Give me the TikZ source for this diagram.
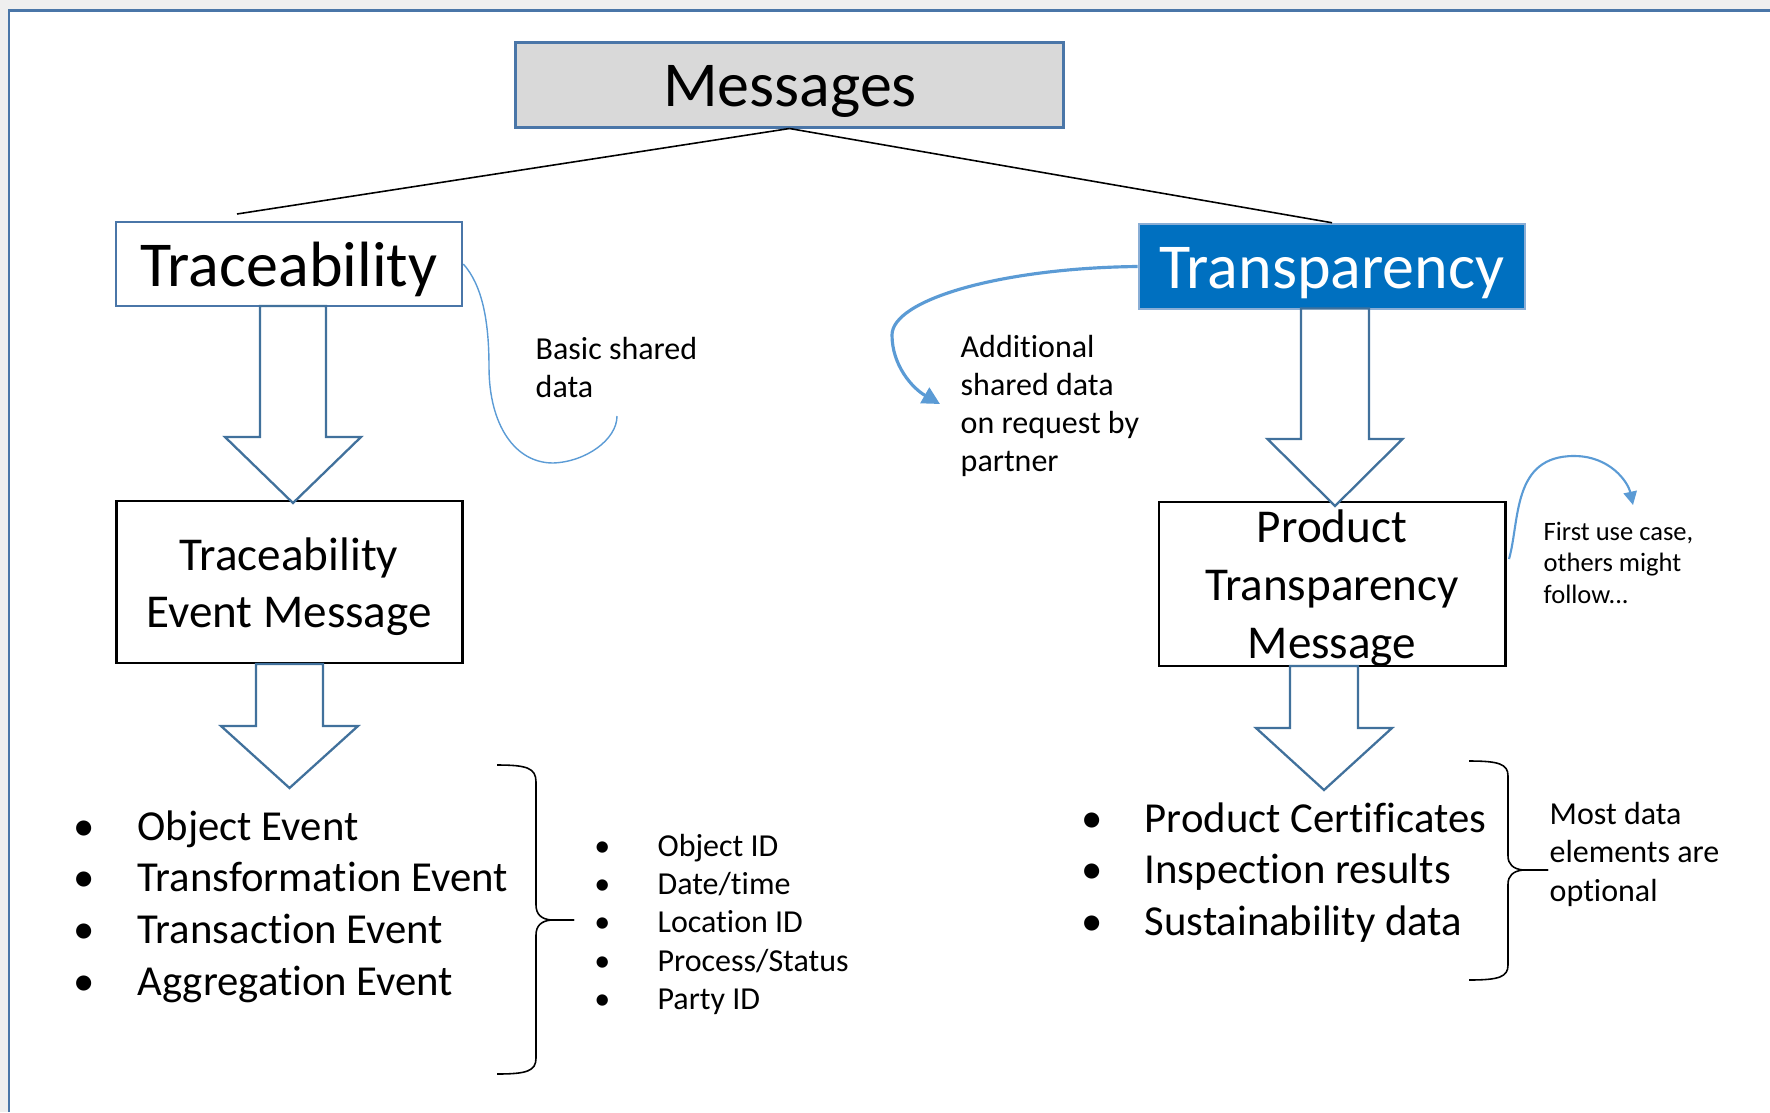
\documentclass[tikz,border=0pt]{standalone}
\usepackage{fontspec}
\setmainfont{Carlito}[Ligatures=CommonOff]
\usetikzlibrary{arrows.meta}
\definecolor{frameblue}{HTML}{4A76A8}
\definecolor{arrowblue}{HTML}{41719C}
\definecolor{msgfill}{HTML}{D9D9D9}
\definecolor{trpfill}{HTML}{0070C0}
\definecolor{trpline}{HTML}{8AAED6}
\definecolor{curveblue}{HTML}{5B9BD5}
\definecolor{outgray}{HTML}{EFEFEF}
\newcommand{\blockarr}[6]{%
  \draw[blockarrow] (#1-#5,#2) -- (#1-#5,#3) -- (#1-#6,#3) -- (#1,#4) -- (#1+#6,#3) -- (#1+#5,#3) -- (#1+#5,#2) -- cycle;}
\newcommand{\bul}[2]{\makebox[#1][l]{\kern#2•}}
\tikzset{
  boxnode/.style={rectangle, inner sep=0pt},
  msgbox/.style={boxnode, draw=frameblue, fill=msgfill, line width=0.85pt},
  tracebox/.style={boxnode, draw=frameblue, fill=white, line width=0.7pt},
  trpbox/.style={boxnode, draw=trpline, fill=trpfill, line width=0.7pt},
  blackbox/.style={boxnode, draw=black, fill=white, line width=0.8pt},
  blockarrow/.style={draw=arrowblue, fill=white, line width=0.65pt, line join=miter},
  bigtext/.style={inner sep=0pt, anchor=base, font=\fontsize{18.2}{21}\selectfont},
  midtext/.style={inner sep=0pt, anchor=base, font=\fontsize{13.4}{16.3}\selectfont},
  listtext/.style={inner sep=0pt, anchor=base west, font=\fontsize{12.15}{14.7}\selectfont},
  notetext/.style={inner sep=0pt, anchor=base west, font=\fontsize{9.1}{10.85}\selectfont},
  smalltext/.style={inner sep=0pt, anchor=base west, font=\fontsize{7.55}{9}\selectfont},
  treeline/.style={draw=black, line width=0.45pt},
  bracestyle/.style={draw=black, line width=0.45pt},
  thincurve/.style={draw=curveblue, line width=0.4pt},
  thickcurve/.style={draw=curveblue, line width=0.9pt, -{Triangle[length=5pt,width=5pt]}},
  medcurve/.style={draw=curveblue, line width=0.6pt, -{Triangle[length=3.8pt,width=3.8pt]}},
}
\begin{document}
\begin{tikzpicture}[x=0.01cm, y=-0.01cm]
\useasboundingbox (0,0) rectangle (1770,1112);
% outer frame
\fill[outgray] (0,0) rectangle (1770,10);
\fill[outgray] (0,0) rectangle (8,1112);
\draw[frameblue, line width=0.8pt] (9,1112) -- (9,10.5) -- (1770,10.5);

% boxes
\node[msgbox, minimum width=5.47cm, minimum height=0.84cm] (msg) at (789.5,85) {};
\node[bigtext] (msgt) at (790,106) {Messages};

\node[tracebox, minimum width=3.46cm, minimum height=0.84cm] (tr) at (289,264) {};
\node[bigtext] (trt) at (289,286) {Traceability};

\node[trpbox, minimum width=3.86cm, minimum height=0.85cm] (trp) at (1332,266.5) {};
\node[bigtext, text=white] (trpt) at (1332,288) {Transparency};

\node[blackbox, minimum width=3.45cm, minimum height=1.62cm] (tem) at (289.5,582) {};
\node[midtext] (temt) at (289,570) {\begin{tabular}[t]{@{}c@{}}Traceability\\Event Message\end{tabular}};

\node[blackbox, minimum width=3.46cm, minimum height=1.64cm] (ptm) at (1332,584) {};
\node[midtext, font=\fontsize{13.4}{16.5}\selectfont] (ptmt) at (1332,542) {\begin{tabular}[t]{@{}c@{}}Product\\Transparency\\Message\end{tabular}};

% tree lines
\coordinate (lend) at (237,214);
\draw[treeline] (msg.south) -- (lend);
\draw[treeline] (msg.south) -- (trp.north);

% block arrows
\blockarr{293}{306}{437}{503}{33}{68}
\blockarr{289.5}{664}{726}{788}{33.5}{68.5}
\blockarr{1335}{308.5}{439}{506}{34}{67.5}
\blockarr{1324}{666}{728}{790}{34}{68}

% curved annotation lines
\coordinate (c1end) at (617,416);
\draw[thincurve] (tr.east) .. controls (482,285) and (489,320) .. (489,367)
  .. controls (489,425) and (515,463) .. (553,463)
  .. controls (585,462) and (617,440) .. (c1end);
\coordinate (c2end) at (940,404);
\draw[thickcurve] (trp.west) .. controls (1000,268) and (892,300) .. (892,335)
  .. controls (892,365) and (912,388) .. (c2end);
\coordinate (c3start) at (1509,559);
\coordinate (c3end) at (1633,505);
\draw[medcurve] (c3start) .. controls (1520,520) and (1512,456) .. (1574,456)
  .. controls (1610,456) and (1628,482) .. (c3end);

% annotation texts
\node[notetext] (basic) at (535,359) {\begin{tabular}[t]{@{}l@{}}Basic shared\\data\end{tabular}};
\node[notetext] (addl) at (960,357) {\begin{tabular}[t]{@{}l@{}}Additional\\shared data\\on request by\\partner\end{tabular}};
\node[smalltext] (first) at (1543,540) {\begin{tabular}[t]{@{}l@{}}First use case,\\others might\\follow...\end{tabular}};
\node[notetext, font=\fontsize{9.1}{11}\selectfont] (most) at (1549,824) {\begin{tabular}[t]{@{}l@{}}Most data\\elements are\\optional\end{tabular}};

% lists
\node[listtext] (evlist) at (79,840) {\begin{tabular}[t]{@{}l@{}}\bul{16.5pt}{-1.7pt}Object Event\\\bul{16.5pt}{-1.7pt}Transformation Event\\\bul{16.5pt}{-1.7pt}Transaction Event\\\bul{16.5pt}{-1.7pt}Aggregation Event\end{tabular}};
\node[notetext, font=\fontsize{9.1}{10.9}\selectfont] (datalist) at (595,856) {\begin{tabular}[t]{@{}l@{}}\bul{17.6pt}{-0.4pt}Object ID\\\bul{17.6pt}{-0.4pt}Date/time\\\bul{17.6pt}{-0.4pt}Location ID\\\bul{17.6pt}{-0.4pt}Process/Status\\\bul{17.6pt}{-0.4pt}Party ID\end{tabular}};
\node[listtext, font=\fontsize{12.15}{14.65}\selectfont] (prlist) at (1086,832) {\begin{tabular}[t]{@{}l@{}}\bul{16.5pt}{-1.5pt}Product Certificates\\\bul{16.5pt}{-1.5pt}Inspection results\\\bul{16.5pt}{-1.5pt}Sustainability data\end{tabular}};

% braces
\coordinate (b1top) at (497,765);
\coordinate (b1tip) at (574,920);
\coordinate (b1bot) at (497,1074);
\draw[bracestyle] (b1top) .. controls (527,765) and (536,768) .. (536,782) -- (536,905)
  .. controls (536,914) and (541,919) .. (551,920) -- (b1tip);
\draw[bracestyle] (b1tip) -- (551,920) .. controls (541,921) and (536,926) .. (536,935)
  -- (536,1058) .. controls (536,1071) and (527,1074) .. (b1bot);
\coordinate (b2top) at (1469,761);
\coordinate (b2tip) at (1548,870);
\coordinate (b2bot) at (1469,980);
\draw[bracestyle] (b2top) .. controls (1499,761) and (1508,764) .. (1508,776) -- (1508,856)
  .. controls (1508,864) and (1513,869) .. (1523,870) -- (b2tip);
\draw[bracestyle] (b2tip) -- (1523,870) .. controls (1513,871) and (1508,876) .. (1508,884)
  -- (1508,965) .. controls (1508,977) and (1499,980) .. (b2bot);
\end{tikzpicture}
\end{document}
